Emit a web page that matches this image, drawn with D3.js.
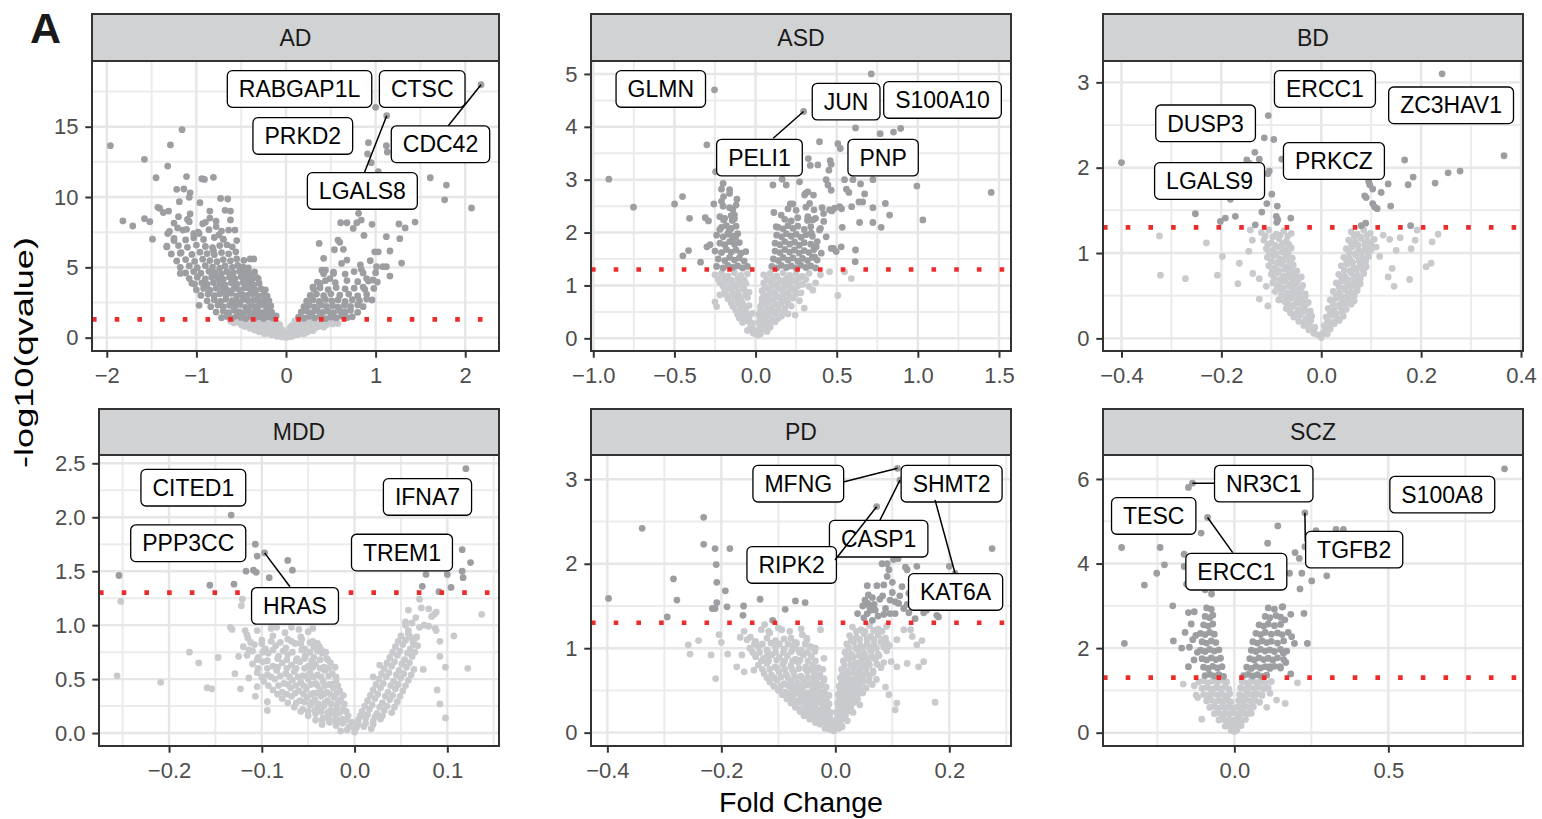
<!DOCTYPE html>
<html><head><meta charset="utf-8">
<script src="https://cdn.jsdelivr.net/npm/d3@7"></script>
<style>
body{margin:0;background:#fff}
svg{display:block}
text{font-family:"Liberation Sans",Arial,Helvetica,sans-serif}
</style>
</head><body>
<svg id="chart" width="1542" height="819"></svg>
<script>
// ---------------- DATA ----------------
const panelNames = ["AD","ASD","BD","MDD","PD","SCZ"];
const qThreshold = 0.05;

// tick values
const adXTicks=[-2,-1,0,1,2], adYTicks=[0,5,10,15];
const asdXTicks=[-1,-0.5,0,0.5,1,1.5], asdYTicks=[0,1,2,3,4,5];
const bdXTicks=[-0.4,-0.2,0,0.2,0.4], bdYTicks=[0,1,2,3];
const mddXTicks=[-0.2,-0.1,0,0.1], mddYTicks=[0,0.5,1,1.5,2,2.5];
const pdXTicks=[-0.4,-0.2,0,0.2], pdYTicks=[0,1,2,3];
const sczXTicks=[0,0.5], sczYTicks=[0,2,4,6];
const adXMinor=[-1.5,-0.5,0.5,1.5], adYMinor=[2.5,7.5,12.5,17.5];
const asdXMinor=[-0.75,-0.25,0.25,0.75,1.25], asdYMinor=[0.5,1.5,2.5,3.5,4.5];
const bdXMinor=[-0.3,-0.1,0.1,0.3], bdYMinor=[0.5,1.5,2.5];
const mddXMinor=[-0.25,-0.15,-0.05,0.05,0.15], mddYMinor=[0.25,0.75,1.25,1.75,2.25];
const pdXMinor=[-0.3,-0.1,0.1,0.3], pdYMinor=[0.5,1.5,2.5];
const sczXMinor=[-0.25,0.25,0.75], sczYMinor=[1,3,5];

// points: [fold change, -log10(qvalue)]
const adPts=[
[-1.96,13.65],[-1.58,12.68],[-1.45,11.37],[-1.32,12.2],[-1.29,13.7],[-1.16,14.79],[-1.82,8.3],[-1.71,7.94],[-1.58,8.46],[-1.52,8.25],[-1.49,7.0],[-1.43,9.27],[-1.41,9.2],[-1.31,9.0],[-1.22,10.55],[-1.14,10.57],[-1.11,11.45],[-1.07,10.3],[-1.08,9.98],[-1.19,9.67],[-0.94,11.3],[-0.91,11.25],[-0.81,11.4],[-0.96,9.6],[-0.73,9.9],[-0.65,9.86],[-0.68,9.05],[-0.62,9.0],[-0.85,9.0],[-0.62,8.37],[-1.2,8.6],[-1.21,7.8],[-1.07,8.8],[-1.1,8.4],[-1.11,7.7],[-0.97,7.4],[-1.03,7.4],[-1.37,8.9],[-1.33,6.5],[-1.32,7.4],[-1.25,6.9],[-1.18,6.0],[-1.18,4.57],[-1.05,3.86],[-0.97,2.3],[-0.75,7.3],[-0.81,6.2],[-0.64,7.65],[-0.57,7.65],[-0.4,5.6],[-0.36,5.6],[-0.4,4.3],[-0.31,4.2],[-0.25,2.45],[-0.9,8.2],[-0.85,8.5],[-0.78,7.9],[-0.7,7.0],[-0.66,6.6],[-0.55,6.9],
[1.0,16.38],[1.124,15.78],[2.176,17.98],[0.92,13.86],[1.12,13.65],[1.13,13.2],[0.91,13.06],[0.95,12.44],[1.03,11.8],[1.61,11.37],[1.79,10.85],[1.77,9.8],[2.07,9.22],[1.44,8.22],[1.26,8.08],[1.33,7.8],[1.27,7.04],[1.12,7.18],[0.81,8.84],[0.61,8.17],[0.68,8.17],[0.75,7.77],[0.79,8.17],[0.84,8.36],[0.87,7.27],[0.96,8.06],[0.37,6.7],[0.58,6.94],[0.6,6.78],[0.64,6.28],[0.54,6.25],[0.42,5.64],[0.68,5.52],[0.62,5.28],[0.99,6.1],[1.03,6.1],[1.16,6.16],[0.94,5.47],[0.83,5.17],[0.84,4.86],[1.01,5.05],[1.08,5.05],[1.12,5.05],[1.16,4.38],[1.29,5.3],[0.9,4.2],[0.97,4.1],[0.86,3.6],[0.96,2.68],[0.4,4.8],[0.44,4.8],[0.53,4.57],[0.49,4.2],[0.38,3.86],[0.3,3.6],
[-0.72,1.42],[-0.66,1.5],[-0.6,1.38],[-0.55,1.55],[-0.5,1.44],[-0.45,1.36],[-0.4,1.52],[-0.35,1.4],[-0.3,1.48],[-0.25,1.37],[-0.2,1.5],[-0.15,1.41],[-0.11,1.55],
[-0.78,1.82],[-0.7,1.9],[-0.64,1.78],[-0.58,1.95],[-0.52,1.84],[-0.47,1.76],[-0.42,1.92],[-0.36,1.8],[-0.31,1.88],[-0.26,1.77],[-0.21,1.93],[-0.16,1.82],
[-0.84,2.2],[-0.76,2.32],[-0.7,2.18],[-0.63,2.3],[-0.57,2.22],[-0.51,2.35],[-0.45,2.16],[-0.39,2.28],[-0.34,2.2],[-0.28,2.33],[-0.22,2.18],[-0.17,2.26],
[-0.88,2.62],[-0.8,2.7],[-0.73,2.58],[-0.67,2.74],[-0.6,2.63],[-0.54,2.56],[-0.48,2.72],[-0.42,2.6],[-0.36,2.68],[-0.3,2.57],[-0.24,2.7],[-0.19,2.62],
[-0.95,3.0],[-0.87,3.1],[-0.8,2.98],[-0.74,3.12],[-0.67,3.02],[-0.61,3.15],[-0.55,2.96],[-0.49,3.08],[-0.43,3.0],[-0.37,3.13],[-0.31,2.97],[-0.25,3.06],[-0.21,2.95],
[-1.0,3.4],[-0.92,3.5],[-0.85,3.38],[-0.78,3.52],[-0.71,3.42],[-0.65,3.36],[-0.58,3.5],[-0.52,3.4],[-0.46,3.55],[-0.4,3.43],[-0.34,3.37],[-0.28,3.48],[-0.23,3.4],
[-1.02,3.8],[-0.94,3.9],[-0.88,3.78],[-0.81,3.92],[-0.74,3.82],[-0.68,3.75],[-0.61,3.9],[-0.55,3.8],[-0.48,3.93],[-0.42,3.83],[-0.36,3.76],[-0.3,3.88],
[-1.08,4.2],[-0.99,4.3],[-0.9,4.18],[-0.83,4.32],[-0.76,4.22],[-0.7,4.15],[-0.63,4.3],[-0.57,4.2],[-0.5,4.33],[-0.44,4.23],[-0.38,4.16],[-0.33,4.28],
[-1.12,4.6],[-1.03,4.7],[-0.95,4.58],[-0.86,4.72],[-0.79,4.62],[-0.72,4.55],[-0.66,4.7],[-0.59,4.6],[-0.52,4.73],[-0.46,4.63],[-0.4,4.56],[-0.35,4.68],
[-1.18,5.0],[-1.08,5.1],[-0.99,4.98],[-0.9,5.12],[-0.82,5.02],[-0.74,4.95],[-0.68,5.1],[-0.6,5.0],[-0.54,5.13],[-0.48,5.03],[-0.42,4.96],
[-1.22,5.45],[-1.12,5.55],[-1.02,5.42],[-0.93,5.58],[-0.85,5.48],[-0.77,5.4],[-0.7,5.55],[-0.62,5.46],[-0.55,5.6],[-0.47,5.5],
[-1.28,5.95],[-1.17,6.05],[-1.05,5.92],[-0.96,6.08],[-0.88,5.98],[-0.8,5.9],[-0.72,6.05],[-0.64,5.96],[-0.56,6.1],
[-1.33,6.45],[-1.2,6.55],[-1.1,6.42],[-1.0,6.58],[-0.9,6.48],[-0.82,6.4],[-0.74,6.55],[-0.6,6.46],
[-1.25,7.05],[-1.12,6.95],[-1.03,7.1],[-0.92,6.98],[-0.8,7.12],[-0.7,7.0],
[-1.3,7.55],[-1.15,7.65],[-0.98,7.5],[-0.86,7.68],[-0.72,7.58],
[-1.25,8.15],[-1.08,8.25],[-0.93,8.1],[-0.78,8.28],
[0.14,1.45],[0.2,1.38],[0.26,1.52],[0.32,1.4],[0.38,1.5],[0.44,1.36],[0.5,1.47],[0.56,1.4],[0.62,1.53],[0.68,1.42],[0.74,1.48],
[0.17,1.82],[0.23,1.9],[0.29,1.78],[0.35,1.92],[0.41,1.8],[0.47,1.88],[0.53,1.77],[0.6,1.9],[0.66,1.83],[0.72,1.95],[0.8,1.8],
[0.2,2.2],[0.26,2.3],[0.32,2.18],[0.39,2.32],[0.45,2.22],[0.52,2.28],[0.58,2.17],[0.65,2.3],[0.72,2.22],[0.8,2.33],[0.86,2.2],
[0.23,2.6],[0.3,2.7],[0.37,2.58],[0.44,2.72],[0.51,2.62],[0.58,2.68],[0.66,2.57],[0.74,2.7],[0.82,2.63],[0.9,2.75],
[0.27,3.0],[0.34,3.1],[0.42,2.98],[0.5,3.12],[0.6,3.02],[0.7,3.1],[0.8,2.97],[0.9,3.08],
[0.31,3.45],[0.38,3.55],[0.47,3.42],[0.56,3.56],[0.66,3.47],[0.76,3.52],[0.88,3.44],[0.98,3.5],
[0.35,3.95],[0.44,4.05],[0.55,3.92],[0.68,4.06],[0.8,3.98],[0.92,4.02],[1.02,3.95],
[0.42,4.55],[0.53,4.65],[0.66,4.52],[0.76,4.7],[0.86,4.6],[1.0,4.62],
[-0.62,1.18],[-0.55,1.24],[-0.48,1.12],[-0.42,1.22],[-0.36,1.15],[-0.3,1.25],[-0.24,1.1],[-0.18,1.2],[-0.12,1.14],[0.1,1.2],[0.16,1.12],[0.22,1.24],[0.28,1.15],[0.34,1.22],[0.4,1.1],[0.46,1.2],[0.52,1.13],[0.58,1.0],
[-0.5,0.92],[-0.43,0.98],[-0.36,0.88],[-0.3,0.95],[-0.24,0.86],[-0.18,0.93],[-0.12,0.85],[-0.07,0.9],[0.07,0.88],[0.13,0.94],[0.19,0.85],[0.25,0.92],[0.32,0.86],[0.38,0.95],[0.45,0.9],
[-0.4,0.66],[-0.33,0.7],[-0.27,0.62],[-0.2,0.68],[-0.14,0.6],[-0.08,0.64],[-0.04,0.55],[0.04,0.58],[0.09,0.66],[0.15,0.62],[0.21,0.68],[0.27,0.6],[0.33,0.7],
[-0.3,0.42],[-0.22,0.38],[-0.16,0.44],[-0.1,0.36],[-0.05,0.4],[-0.02,0.3],[0.02,0.32],[0.06,0.4],[0.12,0.36],[0.18,0.44],[0.24,0.4],
[-0.16,0.2],[-0.1,0.22],[-0.05,0.16],[-0.01,0.1],[0.03,0.14],[0.08,0.2],[0.13,0.22],
[-0.05,0.05],[0,0.02],[0.04,0.06],
[-0.58,1.05],[-0.52,1.08],[-0.45,1.02],[-0.39,1.06],[-0.33,1.02],[-0.27,1.08],[-0.21,1.0],[-0.15,1.05],[-0.09,1.0],[0.1,1.04],[0.16,1.0],[0.22,1.06],[0.28,1.0],[0.34,1.05],[0.4,0.98],[0.46,1.04],[0.52,0.98],
[-0.46,0.8],[-0.4,0.82],[-0.33,0.78],[-0.27,0.8],[-0.21,0.76],[-0.15,0.79],[-0.09,0.74],[0.05,0.74],[0.11,0.78],[0.17,0.74],[0.23,0.8],[0.29,0.76],[0.36,0.8],[0.42,0.76],
[-0.35,0.54],[-0.28,0.52],[-0.22,0.55],[-0.16,0.5],[-0.1,0.52],[0.07,0.5],[0.13,0.53],[0.19,0.5],[0.25,0.54],[0.3,0.5],
[-0.24,0.28],[-0.19,0.3],[-0.13,0.28],[-0.07,0.26],[0.05,0.26],[0.1,0.28],[0.16,0.3],[0.2,0.28],[-0.1,0.1],[0.07,0.1]
];

const asdPts=[
[-0.253,4.70],[0.713,5.0],[0.296,4.29],[0.616,3.98],[0.768,3.87],[0.85,3.9],[0.894,3.97],[0.394,3.72],[0.507,3.68],[0.522,3.59],[-0.30,3.66],[-0.904,3.01],[-0.752,2.48],[-0.499,2.54],[-0.45,2.68],[-0.407,2.27],[-0.31,2.28],[-0.29,2.22],[-0.448,1.56],[-0.413,1.66],[-0.339,1.44],[-0.30,1.73],[-0.28,1.77],[-0.246,3.15],[-0.2,2.93],[-0.21,2.82],[-0.16,2.81],[-0.197,2.68],[-0.16,2.74],[-0.115,2.63],[-0.257,2.54],[-0.21,2.59],[-0.14,2.43],[-0.13,2.33],[-0.197,2.24],[-0.144,2.23],[-0.22,2.06],[-0.17,1.99],[-0.14,1.89],[-0.123,1.91],[-0.16,2.05],
[0.325,3.40],[0.337,3.27],[0.384,3.28],[0.46,3.36],[0.466,3.29],[0.452,3.18],[0.107,2.90],[0.164,3.01],[0.189,2.90],[0.271,2.96],[0.308,2.74],[0.322,2.77],[0.357,2.71],[0.435,3.0],[0.446,2.9],[0.466,2.8],[0.548,3.0],[0.6,3.0],[0.56,2.82],[0.575,2.76],[0.647,2.92],[0.672,2.73],[0.637,2.58],[0.66,2.58],[0.723,3.0],[0.994,2.88],[1.452,2.76],[0.8,2.55],[0.723,2.47],[0.826,2.33],[1.031,2.24],[0.723,2.19],[0.641,2.19],[0.592,2.49],[0.534,2.10],[0.774,2.10],[0.616,1.67],[0.614,1.45],[0.48,1.70],[0.528,1.73],[0.113,2.38],
[0.353,2.24],[0.394,2.05],[0.435,1.92],[0.343,1.99],[0.374,1.73],[0.405,1.61],[0.364,1.54],[0.419,2.36],[0.456,2.43],[0.487,2.46],[0.518,2.49],[0.333,2.55],[0.302,2.71],[0.214,2.54],[0.23,2.54],[0.158,2.33],[0.127,2.11],[0.322,2.3],[0.466,1.70],[0.497,1.64],
[-0.24,1.36],[-0.2,1.33],[-0.17,1.38],[-0.14,1.34],[-0.11,1.37],[-0.08,1.33],[-0.05,1.36],
[-0.23,1.5],[-0.19,1.47],[-0.16,1.53],[-0.13,1.48],[-0.1,1.52],[-0.07,1.46],
[-0.25,1.65],[-0.21,1.62],[-0.18,1.68],[-0.15,1.63],[-0.12,1.67],[-0.09,1.61],[-0.06,1.64],
[-0.22,1.8],[-0.19,1.77],[-0.16,1.83],[-0.13,1.78],[-0.1,1.81],
[-0.24,1.95],[-0.2,1.92],[-0.17,1.97],[-0.14,1.93],[-0.11,1.98],
[-0.21,2.1],[-0.18,2.13],[-0.15,2.08],[-0.12,2.12],
[-0.22,2.3],[-0.19,2.27],[-0.15,2.32],[-0.13,2.26],
[-0.2,2.5],[-0.16,2.47],[-0.12,2.52],
[0.1,1.36],[0.13,1.33],[0.16,1.38],[0.19,1.34],[0.22,1.37],[0.25,1.33],[0.28,1.38],[0.31,1.34],[0.34,1.37],[0.37,1.33],
[0.11,1.5],[0.14,1.47],[0.17,1.53],[0.2,1.48],[0.23,1.52],[0.26,1.46],[0.29,1.51],[0.32,1.47],[0.35,1.53],[0.38,1.48],
[0.12,1.65],[0.15,1.62],[0.18,1.68],[0.21,1.63],[0.24,1.67],[0.27,1.61],[0.3,1.66],[0.33,1.62],[0.36,1.68],
[0.12,1.8],[0.15,1.77],[0.18,1.83],[0.21,1.78],[0.24,1.82],[0.27,1.76],[0.3,1.81],[0.34,1.78],[0.38,1.83],
[0.13,1.95],[0.16,1.92],[0.19,1.98],[0.22,1.93],[0.25,1.97],[0.28,1.91],[0.31,1.96],[0.35,1.93],
[0.14,2.1],[0.17,2.07],[0.2,2.13],[0.23,2.08],[0.26,2.12],[0.3,2.06],[0.34,2.11],[0.4,2.08],
[0.18,2.25],[0.22,2.22],[0.26,2.28],[0.32,2.23],[0.37,2.27],[0.42,2.21],
[0.2,2.45],[0.25,2.42],[0.31,2.48],[0.36,2.43],[0.41,2.47],[0.47,2.41],[0.53,2.45],
[-0.25,1.2],[-0.21,1.23],[-0.17,1.18],[-0.13,1.24],[-0.09,1.19],[-0.05,1.22],
[-0.22,1.05],[-0.18,1.08],[-0.14,1.03],[-0.1,1.07],[-0.06,1.04],
[-0.19,0.9],[-0.15,0.93],[-0.11,0.88],[-0.07,0.92],[-0.04,0.87],
[-0.17,0.75],[-0.13,0.78],[-0.09,0.73],[-0.05,0.77],
[-0.14,0.6],[-0.1,0.63],[-0.07,0.58],[-0.04,0.62],
[-0.11,0.45],[-0.08,0.48],[-0.05,0.43],[-0.02,0.47],
[-0.08,0.3],[-0.05,0.33],[-0.02,0.28],
[-0.05,0.15],[-0.02,0.18],[0.0,0.08],
[0.05,1.2],[0.09,1.23],[0.13,1.18],[0.17,1.24],[0.21,1.19],[0.25,1.22],[0.29,1.17],[0.33,1.23],
[0.05,1.05],[0.09,1.08],[0.13,1.03],[0.17,1.07],[0.21,1.04],[0.25,1.08],[0.29,1.02],
[0.04,0.9],[0.08,0.93],[0.12,0.88],[0.16,0.92],[0.2,0.87],[0.24,0.91],[0.28,0.86],
[0.04,0.75],[0.07,0.78],[0.11,0.73],[0.15,0.77],[0.19,0.72],[0.23,0.76],[0.27,0.71],
[0.03,0.6],[0.06,0.63],[0.1,0.58],[0.14,0.62],[0.18,0.57],[0.22,0.61],
[0.02,0.45],[0.05,0.48],[0.08,0.43],[0.12,0.47],[0.16,0.42],[0.2,0.46],
[0.02,0.3],[0.05,0.33],[0.08,0.28],[0.12,0.31],
[0.02,0.15],[0.04,0.18],[0.07,0.13],
[-0.22,0.82],[-0.25,0.69],[-0.24,0.6],[0.507,0.81],[0.59,1.13],[0.548,1.26],[0.456,1.26],[0.244,0.44],[0.353,0.91],[0.30,0.57],[0.37,1.05],[0.4,1.2],[0.33,0.98],
[-0.23,1.12],[-0.19,1.14],[-0.15,1.1],[-0.11,1.13],[-0.07,1.1],[-0.2,0.98],[-0.16,0.97],[-0.12,0.99],[-0.08,0.96],[-0.18,0.82],[-0.14,0.84],[-0.1,0.8],[-0.06,0.83],[-0.15,0.67],[-0.11,0.69],[-0.08,0.66],[-0.12,0.52],[-0.09,0.54],[-0.06,0.51],[-0.1,0.38],[-0.07,0.39],[-0.04,0.37],
[0.07,1.12],[0.11,1.14],[0.15,1.1],[0.19,1.13],[0.23,1.1],[0.27,1.14],[0.31,1.11],[0.06,0.97],[0.1,0.99],[0.14,0.96],[0.18,0.98],[0.22,0.95],[0.26,0.99],[0.05,0.82],[0.09,0.84],[0.13,0.8],[0.17,0.83],[0.21,0.8],[0.25,0.84],[0.04,0.67],[0.08,0.69],[0.12,0.66],[0.16,0.68],[0.2,0.65],[0.03,0.52],[0.07,0.54],[0.1,0.51],[0.14,0.53],[0.18,0.5],[0.03,0.37],[0.06,0.39],[0.1,0.36],[0.14,0.38],[0.03,0.22],[0.06,0.24],[0.09,0.21],
[-0.03,0.22],[0.0,0.14],[0.015,0.06],[0.03,0.08],[-0.015,0.1]
];

const bdPts=[
[0.242,3.10],[-0.40,2.06],[-0.106,2.61],[-0.114,2.35],[-0.095,2.33],[-0.133,2.18],[-0.124,2.10],[-0.149,2.09],[-0.144,2.05],[-0.107,1.93],[-0.104,1.96],[-0.079,2.10],[-0.099,1.69],[-0.109,1.58],[-0.088,1.55],[-0.119,1.48],[-0.09,1.43],[-0.087,1.39],[-0.089,1.36],[-0.061,1.41],[-0.132,1.33],[-0.172,1.43],[-0.192,1.41],[-0.202,1.37],[-0.182,1.63],[-0.252,1.46],
[0.366,2.14],[0.278,1.96],[0.254,1.94],[0.228,1.82],[0.167,2.09],[0.184,1.89],[0.174,1.80],[0.134,1.81],[0.095,1.84],[0.097,1.80],[0.103,1.75],[0.12,1.71],[0.087,1.67],[0.09,1.65],[0.103,1.58],[0.107,1.54],[0.112,1.52],[0.139,1.55],[0.089,1.35],[0.08,1.32],[0.179,1.32],
[-0.324,1.2],[-0.23,1.12],[-0.322,0.74],[-0.272,0.70],[-0.208,0.74],[-0.198,0.96],[-0.167,0.64],[-0.164,0.88],[-0.145,1.02],[-0.142,1.27],[-0.138,1.15],[-0.137,0.76],[-0.124,0.70],[-0.124,0.46],[-0.11,0.61],[-0.107,0.38],[0.188,1.15],[0.192,1.27],[0.18,1.05],[0.222,1.13],[0.234,1.22],[0.21,0.84],[0.22,0.88],[0.177,0.69],[0.146,0.61],[0.142,0.82],[0.134,0.72],[0.15,1.03],[0.137,1.16],[0.158,1.18],[0.124,1.21],[0.11,1.07],[0.117,0.96],
[-0.12,1.24],[-0.105,1.27],[-0.09,1.22],[-0.075,1.26],[-0.06,1.23],
[-0.115,1.15],[-0.1,1.12],[-0.085,1.17],[-0.07,1.14],
[-0.11,1.05],[-0.097,1.03],[-0.085,1.07],[-0.073,1.04],[-0.06,1.06],
[-0.108,0.95],[-0.095,0.97],[-0.083,0.93],[-0.07,0.96],[-0.058,0.94],
[-0.105,0.85],[-0.092,0.83],[-0.08,0.87],[-0.068,0.84],[-0.056,0.86],
[-0.1,0.75],[-0.088,0.77],[-0.076,0.73],[-0.064,0.76],[-0.052,0.74],[-0.04,0.72],
[-0.097,0.65],[-0.085,0.63],[-0.073,0.67],[-0.061,0.64],[-0.049,0.66],[-0.037,0.62],
[-0.092,0.55],[-0.08,0.57],[-0.068,0.53],[-0.056,0.56],[-0.044,0.54],[-0.032,0.52],
[-0.085,0.45],[-0.073,0.43],[-0.061,0.47],[-0.049,0.44],[-0.037,0.46],[-0.026,0.42],
[-0.07,0.35],[-0.058,0.37],[-0.046,0.33],[-0.034,0.36],[-0.022,0.32],
[-0.055,0.25],[-0.043,0.27],[-0.031,0.23],[-0.019,0.26],
[-0.035,0.15],[-0.024,0.17],[-0.013,0.13],
[-0.015,0.06],[-0.006,0.04],[0.0,0.01],
[0.06,1.25],[0.072,1.22],[0.085,1.27],[0.098,1.23],
[0.055,1.15],[0.068,1.13],[0.08,1.17],[0.093,1.14],[0.106,1.16],
[0.05,1.05],[0.062,1.07],[0.075,1.03],[0.088,1.06],[0.1,1.04],
[0.045,0.95],[0.057,0.93],[0.07,0.97],[0.083,0.94],[0.095,0.96],
[0.04,0.85],[0.052,0.87],[0.065,0.83],[0.078,0.86],[0.09,0.84],
[0.035,0.75],[0.047,0.73],[0.06,0.77],[0.072,0.74],[0.085,0.76],
[0.03,0.65],[0.042,0.67],[0.054,0.63],[0.066,0.66],[0.078,0.64],
[0.024,0.55],[0.036,0.53],[0.048,0.57],[0.06,0.54],[0.072,0.56],
[0.018,0.45],[0.03,0.47],[0.042,0.43],[0.054,0.46],[0.066,0.44],
[0.014,0.35],[0.026,0.33],[0.038,0.37],[0.05,0.34],
[0.01,0.25],[0.02,0.27],[0.032,0.23],[0.044,0.26],
[0.006,0.15],[0.016,0.13],[0.026,0.17],
[0.004,0.06],[0.012,0.05],
[-0.112,1.2],[-0.097,1.19],[-0.082,1.21],[-0.067,1.2],[-0.107,1.1],[-0.092,1.09],[-0.078,1.11],[-0.065,1.1],[-0.103,1.0],[-0.09,0.99],[-0.078,1.01],[-0.066,1.0],[-0.1,0.9],[-0.088,0.89],[-0.076,0.91],[-0.063,0.9],[-0.098,0.8],[-0.085,0.79],[-0.073,0.81],[-0.061,0.8],[-0.049,0.79],[-0.094,0.7],[-0.082,0.69],[-0.07,0.71],[-0.058,0.7],[-0.046,0.69],[-0.088,0.6],[-0.076,0.59],[-0.064,0.61],[-0.052,0.6],[-0.04,0.59],[-0.08,0.5],[-0.068,0.49],[-0.056,0.51],[-0.044,0.5],[-0.032,0.49],[-0.067,0.4],[-0.055,0.39],[-0.043,0.41],[-0.031,0.4],[-0.062,0.3],[-0.05,0.29],[-0.038,0.31],[-0.026,0.3],[-0.045,0.2],[-0.033,0.19],[-0.021,0.21],[-0.025,0.1],[-0.015,0.09],
[0.066,1.2],[0.079,1.19],[0.092,1.21],[0.061,1.1],[0.074,1.09],[0.087,1.11],[0.099,1.1],[0.056,1.0],[0.068,0.99],[0.081,1.01],[0.094,1.0],[0.051,0.9],[0.063,0.89],[0.076,0.91],[0.089,0.9],[0.046,0.8],[0.058,0.79],[0.071,0.81],[0.084,0.8],[0.041,0.7],[0.053,0.69],[0.066,0.71],[0.078,0.7],[0.036,0.6],[0.048,0.59],[0.06,0.61],[0.072,0.6],[0.03,0.5],[0.042,0.49],[0.054,0.51],[0.066,0.5],[0.024,0.4],[0.036,0.39],[0.048,0.41],[0.06,0.4],[0.018,0.3],[0.03,0.29],[0.042,0.31],[0.013,0.2],[0.024,0.19],[0.036,0.21],[0.008,0.1],[0.018,0.11]
];

const mddPts=[
[0.12,2.45],[-0.133,2.02],[-0.107,1.75],[-0.105,1.64],[-0.097,1.67],[-0.072,1.60],[-0.067,1.51],[-0.117,1.50],[-0.109,1.51],[-0.106,1.49],[-0.092,1.44],[-0.130,1.38],[-0.156,1.37],[-0.254,1.46],
[0.116,1.70],[0.125,1.58],[0.116,1.50],[0.117,1.44],[0.1,1.47],[0.104,1.35],[0.077,1.47],[0.073,1.36],[0.091,1.31],
[-0.252,1.22],[-0.256,0.53],[-0.209,0.47],[-0.178,0.75],[-0.168,0.65],[-0.147,0.70],[-0.159,0.42],[-0.154,0.41],[-0.134,0.98],[-0.132,0.96],[-0.121,1.24],[-0.122,1.18],[-0.118,0.95],[0.137,1.10],[0.107,0.90],[0.122,0.60],[0.098,0.14],[0.092,0.27],[0.089,0.40],[0.074,0.59],[0.092,0.71],[0.098,0.61],[0.092,0.85],
[0.07,1.24],[0.072,1.16],[0.08,1.15],[0.086,1.1],[0.088,1.12],[0.083,1.08],[0.058,1.14],[0.055,1.03],[0.066,1.07],[0.075,1.0],[0.08,0.99],[0.087,0.97],[0.088,0.95],[0.058,0.95],[0.06,0.89],[0.064,0.82],[0.067,0.89],
[0.027,0.63],[0.02,0.52],[-0.045,0.97],[-0.038,0.8],[-0.029,0.68],[-0.057,0.87],[-0.068,0.98],[-0.084,0.98],[-0.089,0.98],
[-0.116,0.91],[-0.114,0.77],[-0.125,0.71],[-0.129,0.55],[-0.123,0.41],[-0.107,0.34],[-0.094,0.29],[-0.094,0.21],[-0.105,0.43],[-0.114,0.51],
[-0.105,0.95],[-0.09,0.97],[-0.075,0.93],[-0.06,0.96],[-0.05,0.94],
[-0.115,0.88],[-0.1,0.86],[-0.088,0.9],[-0.072,0.87],[-0.058,0.89],[-0.045,0.85],
[-0.12,0.8],[-0.108,0.82],[-0.096,0.78],[-0.085,0.81],[-0.074,0.79],[-0.064,0.83],[-0.054,0.78],[-0.044,0.8],[-0.036,0.77],
[-0.116,0.72],[-0.104,0.7],[-0.093,0.74],[-0.082,0.71],[-0.072,0.73],[-0.062,0.69],[-0.053,0.72],[-0.044,0.7],[-0.035,0.74],
[-0.11,0.64],[-0.099,0.66],[-0.088,0.62],[-0.078,0.65],[-0.068,0.63],[-0.059,0.66],[-0.05,0.62],[-0.042,0.64],[-0.033,0.61],[-0.026,0.65],
[-0.105,0.56],[-0.094,0.54],[-0.084,0.58],[-0.074,0.55],[-0.065,0.57],[-0.056,0.53],[-0.048,0.56],[-0.04,0.54],[-0.032,0.58],[-0.024,0.55],
[-0.098,0.48],[-0.086,0.5],[-0.076,0.46],[-0.067,0.49],[-0.058,0.47],[-0.05,0.5],[-0.042,0.46],[-0.034,0.48],[-0.027,0.45],[-0.02,0.49],
[-0.088,0.4],[-0.078,0.38],[-0.069,0.42],[-0.06,0.39],[-0.052,0.41],[-0.044,0.37],[-0.037,0.4],[-0.03,0.38],[-0.023,0.42],[-0.016,0.39],
[-0.078,0.32],[-0.068,0.34],[-0.059,0.3],[-0.051,0.33],[-0.043,0.31],[-0.036,0.34],[-0.029,0.3],[-0.022,0.33],[-0.015,0.31],
[-0.065,0.24],[-0.056,0.22],[-0.048,0.26],[-0.04,0.23],[-0.033,0.25],[-0.026,0.21],[-0.019,0.24],[-0.012,0.22],
[-0.05,0.16],[-0.042,0.18],[-0.034,0.14],[-0.027,0.17],[-0.02,0.15],[-0.013,0.13],[-0.007,0.16],
[-0.035,0.08],[-0.027,0.1],[-0.02,0.07],[-0.013,0.09],[-0.006,0.06],[0.0,0.04],
[-0.015,0.02],[-0.008,0.03],[0.0,0.01],
[0.055,1.0],[0.062,1.02],[0.07,0.98],
[0.05,0.9],[0.058,0.92],[0.066,0.88],
[0.044,0.8],[0.052,0.82],[0.06,0.78],[0.068,0.81],
[0.038,0.7],[0.046,0.72],[0.054,0.68],[0.062,0.71],
[0.032,0.6],[0.04,0.62],[0.048,0.58],[0.056,0.61],[0.064,0.59],
[0.026,0.5],[0.034,0.52],[0.042,0.48],[0.05,0.51],[0.058,0.49],
[0.02,0.4],[0.028,0.42],[0.036,0.38],[0.044,0.41],[0.052,0.39],
[0.014,0.3],[0.022,0.32],[0.03,0.28],[0.038,0.31],[0.046,0.29],
[0.008,0.2],[0.016,0.22],[0.024,0.18],[0.032,0.21],[0.04,0.19],
[0.004,0.12],[0.012,0.14],[0.02,0.11],[0.028,0.13],
[0.002,0.05],[0.01,0.06],[0.018,0.04],
[-0.112,0.84],[-0.1,0.83],[-0.09,0.85],[-0.08,0.84],[-0.068,0.85],[-0.058,0.83],[-0.048,0.84],[-0.04,0.83],
[-0.11,0.76],[-0.099,0.75],[-0.088,0.77],[-0.077,0.76],[-0.067,0.75],[-0.057,0.77],[-0.048,0.75],[-0.04,0.76],[-0.031,0.75],
[-0.105,0.68],[-0.094,0.67],[-0.083,0.69],[-0.073,0.68],[-0.063,0.67],[-0.054,0.69],[-0.046,0.67],[-0.037,0.68],[-0.03,0.69],
[-0.104,0.6],[-0.094,0.6],[-0.083,0.61],[-0.073,0.6],[-0.063,0.6],[-0.054,0.6],[-0.045,0.61],[-0.037,0.6],[-0.028,0.6],[-0.021,0.61],
[-0.1,0.52],[-0.09,0.52],[-0.08,0.53],[-0.07,0.52],[-0.061,0.52],[-0.052,0.53],[-0.044,0.52],[-0.036,0.52],[-0.028,0.53],[-0.02,0.52],
[-0.093,0.44],[-0.082,0.44],[-0.072,0.45],[-0.063,0.44],[-0.055,0.44],[-0.047,0.45],[-0.04,0.44],[-0.032,0.44],[-0.025,0.45],[-0.018,0.44],
[-0.083,0.36],[-0.073,0.36],[-0.064,0.37],[-0.055,0.36],[-0.047,0.36],[-0.04,0.37],[-0.033,0.36],[-0.026,0.36],[-0.019,0.37],[-0.012,0.35],
[-0.072,0.28],[-0.063,0.28],[-0.054,0.29],[-0.046,0.28],[-0.039,0.27],[-0.032,0.28],[-0.025,0.27],[-0.018,0.28],[-0.011,0.27],
[-0.058,0.2],[-0.05,0.2],[-0.043,0.21],[-0.036,0.2],[-0.029,0.19],[-0.022,0.2],[-0.016,0.19],[-0.009,0.2],
[-0.042,0.12],[-0.035,0.12],[-0.028,0.13],[-0.021,0.12],[-0.015,0.11],[-0.009,0.12],[-0.003,0.1],
[0.047,0.85],[0.055,0.86],[0.063,0.84],[0.041,0.75],[0.049,0.76],[0.057,0.74],[0.065,0.75],[0.035,0.65],[0.043,0.66],[0.051,0.64],[0.059,0.65],[0.029,0.55],[0.037,0.56],[0.045,0.54],[0.053,0.55],[0.061,0.54],[0.023,0.45],[0.031,0.46],[0.039,0.44],[0.047,0.45],[0.055,0.44],[0.017,0.35],[0.025,0.36],[0.033,0.34],[0.041,0.35],[0.049,0.34],[0.011,0.25],[0.019,0.26],[0.027,0.24],[0.035,0.25],[0.043,0.24],[0.006,0.16],[0.014,0.17],[0.022,0.15],[0.03,0.16],[0.004,0.08],[0.012,0.09],[0.02,0.08]
];

const pdPts=[
[0.109,3.13],[0.1134,2.99],[0.0725,2.676],[0.21,1.887],
[0.056,1.74],[0.058,1.63],[0.057,1.53],[0.06,1.49],[0.056,1.41],[0.039,1.41],[0.073,1.74],[0.078,1.58],[0.085,1.75],[0.091,1.85],[0.094,1.93],[0.082,2.0],[0.091,2.0],[0.102,2.05],[0.096,1.57],[0.105,1.55],[0.111,1.53],[0.088,1.47],[0.096,1.41],[0.105,1.41],[0.117,1.73],[0.123,1.96],[0.126,1.93],[0.143,1.97],[0.129,1.65],[0.126,1.52],[0.129,1.42],[0.155,1.42],[0.178,1.39],[0.181,1.37],[0.143,1.79],[0.2,1.97],[0.275,2.18],
[0.05,1.36],[0.065,1.33],[0.07,1.45],[0.048,1.5],[0.065,1.6],[0.068,1.52],[0.075,1.38],[0.083,1.62],[0.1,1.66],[0.113,1.62],[0.12,1.47],[0.135,1.5],[0.14,1.35],[0.148,1.6],[0.16,1.45],[0.085,1.4],[0.062,1.45],[0.052,1.57],[0.1,1.78],[0.11,2.06],
[-0.398,1.59],[-0.339,2.42],[-0.284,1.82],[-0.278,1.57],[-0.295,1.37],[-0.231,2.55],[-0.231,2.23],[-0.211,2.18],[-0.185,2.18],[-0.209,1.99],[-0.208,1.78],[-0.193,1.68],[-0.208,1.54],[-0.216,1.47],[-0.211,1.47],[-0.19,1.49],[-0.161,1.5],[-0.162,1.39],[-0.132,1.58],[-0.11,1.33],[-0.088,1.46],[-0.07,1.56],[-0.053,1.54],
[-0.258,1.04],[-0.24,1.09],[-0.255,0.93],[-0.218,0.92],[-0.204,1.16],[-0.2,1.07],[-0.21,0.64],[-0.189,0.93],[-0.173,0.78],[-0.167,1.13],[-0.164,0.92],[-0.16,0.72],[-0.149,1.13],[-0.143,0.74],[-0.124,1.28],[-0.117,1.2],[-0.12,0.9],[-0.094,1.22],[-0.078,1.12],[-0.07,1.0],[-0.058,1.16],[-0.05,1.1],[-0.041,1.01],[-0.035,1.0],[-0.026,1.22],[-0.02,0.88],[-0.02,0.62],
[0.09,1.06],[0.108,1.1],[0.12,1.22],[0.135,1.14],[0.152,1.09],[0.143,1.04],[0.108,0.78],[0.126,0.82],[0.146,0.78],[0.155,0.84],[0.098,0.84],[0.108,0.35],[0.105,0.27],[0.175,0.36],[0.088,0.54],[0.094,0.45],[0.132,1.22],
[-0.16,1.2],[-0.13,1.22],[-0.115,1.18],[-0.1,1.24],[-0.08,1.2],[-0.06,1.23],
[-0.155,1.1],[-0.14,1.08],[-0.12,1.12],[-0.105,1.09],[-0.09,1.11],[-0.07,1.07],[-0.05,1.12],
[-0.15,1.0],[-0.135,1.02],[-0.12,0.98],[-0.105,1.01],[-0.09,0.99],[-0.075,1.03],[-0.06,0.98],[-0.045,1.02],
[-0.14,0.9],[-0.126,0.88],[-0.112,0.92],[-0.098,0.89],[-0.084,0.91],[-0.07,0.87],[-0.056,0.92],[-0.042,0.9],
[-0.135,0.8],[-0.12,0.82],[-0.106,0.78],[-0.092,0.81],[-0.078,0.79],[-0.065,0.83],[-0.052,0.78],[-0.04,0.8],[-0.03,0.77],
[-0.125,0.7],[-0.112,0.68],[-0.099,0.72],[-0.086,0.69],[-0.073,0.71],[-0.061,0.67],[-0.049,0.72],[-0.037,0.7],[-0.027,0.68],
[-0.115,0.6],[-0.102,0.62],[-0.09,0.58],[-0.078,0.61],[-0.066,0.59],[-0.055,0.62],[-0.044,0.58],[-0.034,0.6],[-0.024,0.57],
[-0.1,0.5],[-0.089,0.48],[-0.078,0.52],[-0.068,0.49],[-0.058,0.51],[-0.048,0.47],[-0.039,0.5],[-0.03,0.52],[-0.021,0.48],
[-0.085,0.4],[-0.075,0.42],[-0.065,0.38],[-0.056,0.41],[-0.047,0.39],[-0.038,0.42],[-0.03,0.38],[-0.022,0.4],[-0.015,0.37],
[-0.07,0.3],[-0.061,0.28],[-0.052,0.32],[-0.044,0.29],[-0.036,0.31],[-0.028,0.27],[-0.021,0.3],[-0.014,0.28],
[-0.055,0.2],[-0.046,0.22],[-0.038,0.18],[-0.03,0.21],[-0.023,0.19],[-0.016,0.22],[-0.01,0.18],
[-0.035,0.12],[-0.027,0.1],[-0.02,0.13],[-0.013,0.11],[-0.007,0.09],
[-0.018,0.05],[-0.01,0.04],[-0.003,0.02],
[0.03,1.25],[0.045,1.22],[0.06,1.27],[0.075,1.23],[0.09,1.26],
[0.025,1.15],[0.037,1.13],[0.05,1.17],[0.062,1.14],[0.075,1.16],[0.088,1.12],
[0.02,1.05],[0.032,1.07],[0.044,1.03],[0.056,1.06],[0.068,1.04],[0.08,1.07],[0.095,1.03],
[0.017,0.95],[0.028,0.93],[0.04,0.97],[0.051,0.94],[0.063,0.96],[0.075,0.93],[0.09,0.97],
[0.014,0.85],[0.025,0.87],[0.036,0.83],[0.047,0.86],[0.058,0.84],[0.07,0.87],[0.085,0.83],
[0.011,0.75],[0.021,0.73],[0.032,0.77],[0.043,0.74],[0.054,0.76],[0.066,0.73],[0.08,0.77],
[0.009,0.65],[0.018,0.67],[0.028,0.63],[0.038,0.66],[0.048,0.64],[0.06,0.67],[0.072,0.63],
[0.007,0.55],[0.015,0.53],[0.024,0.57],[0.033,0.54],[0.043,0.56],[0.054,0.53],[0.065,0.57],
[0.005,0.45],[0.013,0.47],[0.021,0.43],[0.029,0.46],[0.038,0.44],[0.048,0.47],
[0.004,0.35],[0.011,0.33],[0.018,0.37],[0.026,0.34],[0.034,0.36],[0.043,0.33],
[0.003,0.25],[0.009,0.27],[0.016,0.23],[0.023,0.26],[0.031,0.24],
[0.002,0.15],[0.008,0.13],[0.014,0.17],[0.021,0.14],
[0.001,0.06],[0.006,0.05],[0.012,0.07],
[-0.142,1.05],[-0.128,1.05],[-0.113,1.06],[-0.098,1.05],[-0.083,1.05],[-0.068,1.06],[-0.053,1.05],
[-0.145,0.95],[-0.133,0.95],[-0.119,0.96],[-0.105,0.95],[-0.091,0.95],[-0.077,0.96],[-0.063,0.95],[-0.049,0.95],[-0.036,0.96],
[-0.13,0.85],[-0.117,0.85],[-0.103,0.86],[-0.089,0.85],[-0.075,0.85],[-0.062,0.86],[-0.048,0.85],[-0.035,0.85],
[-0.128,0.75],[-0.115,0.75],[-0.102,0.76],[-0.089,0.75],[-0.076,0.75],[-0.064,0.76],[-0.052,0.75],[-0.041,0.75],[-0.031,0.76],[-0.022,0.75],
[-0.12,0.65],[-0.107,0.65],[-0.095,0.66],[-0.083,0.65],[-0.071,0.65],[-0.06,0.66],[-0.049,0.65],[-0.039,0.65],[-0.029,0.66],[-0.02,0.64],
[-0.108,0.55],[-0.096,0.55],[-0.084,0.56],[-0.073,0.55],[-0.062,0.55],[-0.052,0.56],[-0.042,0.55],[-0.033,0.55],[-0.024,0.56],[-0.016,0.54],
[-0.093,0.45],[-0.082,0.45],[-0.072,0.46],[-0.062,0.45],[-0.053,0.45],[-0.044,0.46],[-0.035,0.45],[-0.026,0.45],[-0.018,0.46],[-0.011,0.44],
[-0.078,0.35],[-0.069,0.35],[-0.06,0.36],[-0.051,0.35],[-0.042,0.35],[-0.034,0.36],[-0.026,0.35],[-0.018,0.35],[-0.011,0.34],
[-0.062,0.25],[-0.053,0.25],[-0.045,0.26],[-0.037,0.25],[-0.029,0.25],[-0.022,0.26],[-0.015,0.25],[-0.008,0.24],
[-0.045,0.16],[-0.037,0.16],[-0.029,0.17],[-0.022,0.16],[-0.015,0.16],[-0.008,0.15],[-0.002,0.14],
[0.037,1.2],[0.052,1.2],[0.067,1.21],[0.082,1.2],[0.028,1.1],[0.043,1.1],[0.056,1.11],[0.068,1.1],[0.081,1.1],[0.024,1.0],[0.036,1.0],[0.048,1.01],[0.06,1.0],[0.072,1.0],[0.085,1.01],[0.02,0.9],[0.031,0.9],[0.042,0.91],[0.053,0.9],[0.064,0.9],[0.077,0.91],[0.016,0.8],[0.027,0.8],[0.038,0.81],[0.049,0.8],[0.06,0.8],[0.073,0.81],[0.013,0.7],[0.023,0.7],[0.033,0.71],[0.043,0.7],[0.054,0.7],[0.066,0.71],[0.011,0.6],[0.02,0.6],[0.029,0.61],[0.038,0.6],[0.048,0.6],[0.059,0.61],[0.009,0.5],[0.017,0.5],[0.025,0.51],[0.034,0.5],[0.043,0.5],[0.007,0.4],[0.015,0.4],[0.022,0.41],[0.03,0.4],[0.039,0.4],[0.006,0.3],[0.012,0.3],[0.019,0.31],[0.027,0.3],[0.004,0.2],[0.011,0.2],[0.018,0.21],[0.003,0.1],[0.009,0.1]
];

const sczPts=[
[0.877,6.24],[-0.136,5.90],[-0.149,5.80],[-0.087,5.09],[0.229,5.2],[-0.108,4.72],[0.141,4.89],[0.108,4.48],[0.265,4.78],[0.33,4.81],[0.354,4.81],[0.197,4.26],[0.211,4.12],[0.229,4.4],[-0.366,4.38],[-0.241,4.38],[-0.163,4.22],[-0.227,3.97],[-0.252,3.77],[-0.292,3.49],[-0.163,3.93],[-0.155,3.51],[-0.095,3.38],[-0.074,3.28],[0.179,3.77],[0.219,3.77],[0.251,3.59],[0.3,3.71],[0.213,3.4],[-0.2,3.0],[-0.149,2.84],[-0.13,2.86],[-0.14,2.57],[-0.16,2.37],[-0.198,2.17],[-0.171,2.0],[-0.146,2.02],[-0.131,1.72],[-0.149,1.56],[-0.357,2.11],[0.226,2.82],[0.237,2.11],[0.183,2.8],[0.164,2.67],[0.157,2.98],[0.195,2.11],[0.186,2.27],[0.159,1.88],[0.167,1.66],[0.183,1.39],[0.148,1.56],[0.116,1.56],
[-0.12,1.9],[-0.125,2.3],[-0.135,2.2],
[-0.095,1.35],[-0.08,1.38],[-0.065,1.34],[-0.05,1.37],[-0.035,1.33],
[-0.1,1.55],[-0.085,1.52],[-0.07,1.57],[-0.055,1.53],[-0.04,1.56],
[-0.105,1.75],[-0.09,1.72],[-0.075,1.77],[-0.06,1.73],[-0.045,1.76],
[-0.11,1.95],[-0.095,1.92],[-0.08,1.97],[-0.065,1.93],[-0.05,1.96],
[-0.105,2.15],[-0.09,2.12],[-0.075,2.17],[-0.06,2.13],
[-0.11,2.35],[-0.095,2.32],[-0.08,2.37],[-0.065,2.33],
[-0.1,2.55],[-0.085,2.52],[-0.07,2.57],
[-0.095,2.75],[-0.08,2.72],[-0.07,2.78],
[-0.09,2.95],[-0.075,2.92],
[0.03,1.35],[0.045,1.38],[0.06,1.34],[0.075,1.37],[0.09,1.33],[0.105,1.36],
[0.04,1.55],[0.055,1.52],[0.07,1.57],[0.085,1.53],[0.1,1.56],[0.115,1.52],[0.13,1.57],[0.15,1.53],
[0.05,1.75],[0.065,1.72],[0.08,1.77],[0.095,1.73],[0.11,1.76],[0.125,1.72],[0.14,1.77],[0.16,1.73],
[0.055,1.95],[0.07,1.92],[0.085,1.97],[0.1,1.93],[0.115,1.96],[0.13,1.92],[0.15,1.97],[0.17,1.93],
[0.06,2.15],[0.075,2.12],[0.09,2.17],[0.105,2.13],[0.12,2.16],[0.14,2.12],[0.16,2.17],
[0.07,2.35],[0.085,2.32],[0.1,2.37],[0.12,2.33],[0.14,2.36],[0.155,2.32],[0.175,2.37],
[0.08,2.55],[0.095,2.52],[0.11,2.57],[0.13,2.53],[0.15,2.56],
[0.1,2.75],[0.115,2.72],[0.135,2.77],[0.15,2.73],
[0.11,2.95],[0.13,2.92],[0.155,2.97],
[-0.166,1.15],[-0.13,1.11],[-0.124,0.89],[-0.119,0.83],[-0.106,0.32],[0.205,1.18],[0.137,0.77],[0.165,0.69],[0.105,0.6],[0.116,0.93],
[-0.115,1.2],[-0.1,1.23],[-0.085,1.18],[-0.07,1.22],[-0.055,1.19],[-0.04,1.24],[-0.025,1.2],[0.025,1.21],[0.04,1.18],[0.055,1.23],[0.07,1.19],[0.085,1.22],[0.1,1.18],[0.12,1.21],
[-0.105,1.05],[-0.09,1.07],[-0.075,1.03],[-0.06,1.06],[-0.045,1.04],[-0.03,1.08],[-0.018,1.03],[0.02,1.06],[0.035,1.03],[0.05,1.07],[0.065,1.04],[0.08,1.08],[0.095,1.03],[0.11,1.06],
[-0.1,0.9],[-0.085,0.88],[-0.07,0.92],[-0.055,0.89],[-0.04,0.91],[-0.027,0.87],[-0.015,0.92],[0.017,0.9],[0.03,0.87],[0.045,0.92],[0.06,0.89],[0.075,0.91],[0.09,0.88],
[-0.09,0.75],[-0.076,0.77],[-0.062,0.73],[-0.048,0.76],[-0.035,0.74],[-0.022,0.78],[-0.012,0.73],[0.014,0.76],[0.026,0.73],[0.04,0.77],[0.054,0.74],[0.068,0.76],[0.082,0.72],
[-0.08,0.6],[-0.066,0.62],[-0.053,0.58],[-0.04,0.61],[-0.028,0.59],[-0.017,0.63],[-0.008,0.58],[0.01,0.61],[0.022,0.58],[0.035,0.62],[0.048,0.59],[0.062,0.61],
[-0.065,0.45],[-0.052,0.47],[-0.04,0.43],[-0.029,0.46],[-0.018,0.44],[-0.008,0.47],[0.008,0.45],[0.018,0.43],[0.03,0.47],[0.042,0.44],[0.055,0.46],
[-0.05,0.3],[-0.037,0.32],[-0.026,0.28],[-0.015,0.31],[-0.006,0.29],[0.005,0.3],[0.014,0.32],[0.025,0.28],[0.036,0.31],
[-0.03,0.15],[-0.018,0.17],[-0.008,0.13],[0.003,0.16],[0.012,0.14],[0.022,0.17],
[-0.01,0.05],[0.0,0.03],[0.008,0.06]
];

// gene labels: text, label centre (lx,ly), optional segment from point (px,py) to box edge (ex,ey)
const adLabels=[
{t:"RABGAP1L",lx:0.151,ly:17.68},{t:"CTSC",lx:1.52,ly:17.68},{t:"PRKD2",lx:0.1875,ly:14.34},
{t:"CDC42",lx:1.724,ly:13.75,px:2.176,py:17.98,ex:1.811,ey:15.07},
{t:"LGALS8",lx:0.852,ly:10.43,px:1.124,py:15.78,ex:0.874,ey:11.73}];
const asdLabels=[
{t:"GLMN",lx:-0.584,ly:4.716},{t:"JUN",lx:0.558,ly:4.476},{t:"S100A10",lx:1.152,ly:4.508},
{t:"PELI1",lx:0.024,ly:3.417,px:0.296,py:4.29,ex:0.109,ey:3.783},{t:"PNP",lx:0.786,ly:3.417}];
const bdLabels=[
{t:"ERCC1",lx:0.0074,ly:2.922},{t:"ZC3HAV1",lx:0.26,ly:2.731},{t:"DUSP3",lx:-0.2316,ly:2.52},
{t:"PRKCZ",lx:0.0254,ly:2.078},{t:"LGALS9",lx:-0.2236,ly:1.844}];
const mddLabels=[
{t:"CITED1",lx:-0.1738,ly:2.274},{t:"IFNA7",lx:0.0786,ly:2.188},{t:"PPP3CC",lx:-0.1793,ly:1.759},
{t:"TREM1",lx:0.0511,ly:1.673},{t:"HRAS",lx:-0.0642,ly:1.179,px:-0.097,py:1.67,ex:-0.0696,ey:1.356}];
const pdLabels=[
{t:"MFNG",lx:-0.065,ly:2.948,px:0.109,py:3.13,ex:0.014,ey:2.969},
{t:"SHMT2",lx:0.204,ly:2.948,px:0.21,py:1.887,ex:0.1749,ey:2.756},
{t:"CASP1",lx:0.076,ly:2.297,px:0.1134,py:2.99,ex:0.0784,ey:2.518},
{t:"RIPK2",lx:-0.0766,ly:1.986,px:0.0725,py:2.676,ex:-0.0006,ey:2.045},
{t:"KAT6A",lx:0.211,ly:1.666}];
const sczLabels=[
{t:"NR3C1",lx:0.0954,ly:5.889,px:-0.136,py:5.90,ex:-0.0628,ey:5.898},
{t:"S100A8",lx:0.675,ly:5.629},{t:"TESC",lx:-0.2618,ly:5.125},
{t:"TGFB2",lx:0.389,ly:4.328,px:0.229,py:5.2,ex:0.2304,ey:4.517},
{t:"ERCC1",lx:0.0064,ly:3.807,px:-0.087,py:5.09,ex:-0.0053,ey:4.257}];

// ---------------- LAYOUT (pixels / domains) ----------------
const panels=[
 {name:panelNames[0],pts:adPts,labels:adLabels,box:[92,61,499,351],stripTop:14,xd:[-2.165,2.377],yd:[-0.948,19.67],xt:adXTicks,yt:adYTicks,xm:adXMinor,ym:adYMinor,xf:"d",yf:"d"},
 {name:panelNames[1],pts:asdPts,labels:asdLabels,box:[591,61,1011,351],stripTop:14,xd:[-1.014,1.574],yd:[-0.24,5.245],xt:asdXTicks,yt:asdYTicks,xm:asdXMinor,ym:asdYMinor,xf:".1f",yf:"d"},
 {name:panelNames[2],pts:bdPts,labels:bdLabels,box:[1103,61,1523,351],stripTop:14,xd:[-0.437,0.404],yd:[-0.148,3.25],xt:bdXTicks,yt:bdYTicks,xm:bdXMinor,ym:bdYMinor,xf:".1f",yf:"d"},
 {name:panelNames[3],pts:mddPts,labels:mddLabels,box:[99,455,499,746],stripTop:409,xd:[-0.2755,0.1557],yd:[-0.12,2.577],xt:mddXTicks,yt:mddYTicks,xm:mddXMinor,ym:mddYMinor,xf:".1f",yf:".1f"},
 {name:panelNames[4],pts:pdPts,labels:pdLabels,box:[591,455,1011,746],stripTop:409,xd:[-0.4287,0.3082],yd:[-0.158,3.288],xt:pdXTicks,yt:pdYTicks,xm:pdXMinor,ym:pdYMinor,xf:".1f",yf:"d"},
 {name:panelNames[5],pts:sczPts,labels:sczLabels,box:[1103,455,1523,746],stripTop:409,xd:[-0.4264,0.937],yd:[-0.315,6.567],xt:sczXTicks,yt:sczYTicks,xm:sczXMinor,ym:sczYMinor,xf:".1f",yf:"d"}
];

const COL_SIG="#9d9ea2", COL_NS="#c9cacd", COL_RED="#ee2b2b";
const R=3.4;
const svg=d3.select("#chart");
const thr=-Math.log10(qThreshold);

panels.forEach(p=>{
  const [x0,y0,x1,y1]=p.box;
  const x=d3.scaleLinear().domain(p.xd).range([x0,x1]);
  const y=d3.scaleLinear().domain(p.yd).range([y1,y0]);
  const g=svg.append("g");
  g.append("rect").attr("x",x0).attr("y",y0).attr("width",x1-x0).attr("height",y1-y0).attr("fill","#fff");
  // minor grid
  g.selectAll(null).data(p.xm).join("line").attr("x1",d=>x(d)).attr("x2",d=>x(d)).attr("y1",y0).attr("y2",y1).attr("stroke","#ebebeb").attr("stroke-width",2.0);
  g.selectAll(null).data(p.ym).join("line").attr("y1",d=>y(d)).attr("y2",d=>y(d)).attr("x1",x0).attr("x2",x1).attr("stroke","#ebebeb").attr("stroke-width",2.0);
  // major grid
  g.selectAll(null).data(p.xt).join("line").attr("x1",d=>x(d)).attr("x2",d=>x(d)).attr("y1",y0).attr("y2",y1).attr("stroke","#e6e6e6").attr("stroke-width",2.4);
  g.selectAll(null).data(p.yt).join("line").attr("y1",d=>y(d)).attr("y2",d=>y(d)).attr("x1",x0).attr("x2",x1).attr("stroke","#e6e6e6").attr("stroke-width",2.4);
  // points
  const ns=p.pts.filter(d=>d[1]<=thr), sig=p.pts.filter(d=>d[1]>thr);
  g.selectAll(null).data(ns).join("circle").attr("cx",d=>x(d[0])).attr("cy",d=>y(d[1])).attr("r",R).attr("fill",COL_NS);
  g.selectAll(null).data(sig).join("circle").attr("cx",d=>x(d[0])).attr("cy",d=>y(d[1])).attr("r",R).attr("fill",COL_SIG);
  // threshold
  g.append("line").attr("x1",x0).attr("x2",x1).attr("y1",y(thr)).attr("y2",y(thr))
    .attr("stroke",COL_RED).attr("stroke-width",4.6).attr("stroke-dasharray","4.6 18.1");
  // label boxes
  p.labels.forEach(l=>{
    const cx=x(l.lx), cy=y(l.ly);
    const lg=g.append("g");
    const r=lg.append("rect");
    const t=lg.append("text").attr("x",cx).attr("y",cy+8.2).attr("text-anchor","middle")
      .attr("font-size",23).attr("fill","#000").text(l.t);
    const w=t.node().getComputedTextLength();
    r.attr("x",cx-w/2-11.5).attr("y",cy-18.3).attr("width",w+23).attr("height",36.6)
     .attr("rx",5).attr("fill","#fff").attr("stroke","#000").attr("stroke-width",1.3);
  });
  // segments
  p.labels.filter(l=>l.px!==undefined).forEach(l=>{
    g.append("line").attr("x1",x(l.px)).attr("y1",y(l.py)).attr("x2",x(l.ex)).attr("y2",y(l.ey))
      .attr("stroke","#000").attr("stroke-width",1.5);
  });
  // border
  g.append("rect").attr("x",x0).attr("y",y0).attr("width",x1-x0).attr("height",y1-y0)
    .attr("fill","none").attr("stroke","#333").attr("stroke-width",2);
  // strip
  g.append("rect").attr("x",x0).attr("y",p.stripTop).attr("width",x1-x0).attr("height",y0-p.stripTop)
    .attr("fill","#d1d2d4").attr("stroke","#333").attr("stroke-width",2);
  g.append("text").attr("x",(x0+x1)/2).attr("y",(p.stripTop+y0)/2+8).attr("text-anchor","middle")
    .attr("font-size",23).attr("fill","#1a1a1a").text(p.name);
  // axes
  const ax=g.append("g").attr("transform",`translate(0,${y1})`)
    .call(d3.axisBottom(x).tickValues(p.xt).tickFormat(d3.format(p.xf)).tickSize(6.7).tickPadding(9.5));
  const ay=g.append("g").attr("transform",`translate(${x0},0)`)
    .call(d3.axisLeft(y).tickValues(p.yt).tickFormat(d3.format(p.yf)).tickSize(6.7).tickPadding(6.8));
  [ax,ay].forEach(a=>{
    a.select(".domain").remove();
    a.selectAll(".tick line").attr("stroke","#333").attr("stroke-width",2);
    a.selectAll(".tick text").attr("fill","#4d4d4d").attr("font-size",22).attr("font-family","'Liberation Sans',Arial,sans-serif");
  });
});

// titles
svg.append("text").attr("x",801).attr("y",811.7).attr("text-anchor","middle").attr("font-size",27)
  .attr("textLength",164).attr("lengthAdjust","spacingAndGlyphs").attr("fill","#000").text("Fold Change");
svg.append("text").attr("transform","translate(33,352.5) rotate(-90)").attr("text-anchor","middle").attr("font-size",25)
  .attr("textLength",231).attr("lengthAdjust","spacingAndGlyphs").attr("fill","#000").text("-log10(qvalue)");
svg.append("text").attr("x",30).attr("y",42.7).attr("font-size",43).attr("font-weight","bold").attr("fill","#1a1a1a").text("A");
</script>
</body></html>
